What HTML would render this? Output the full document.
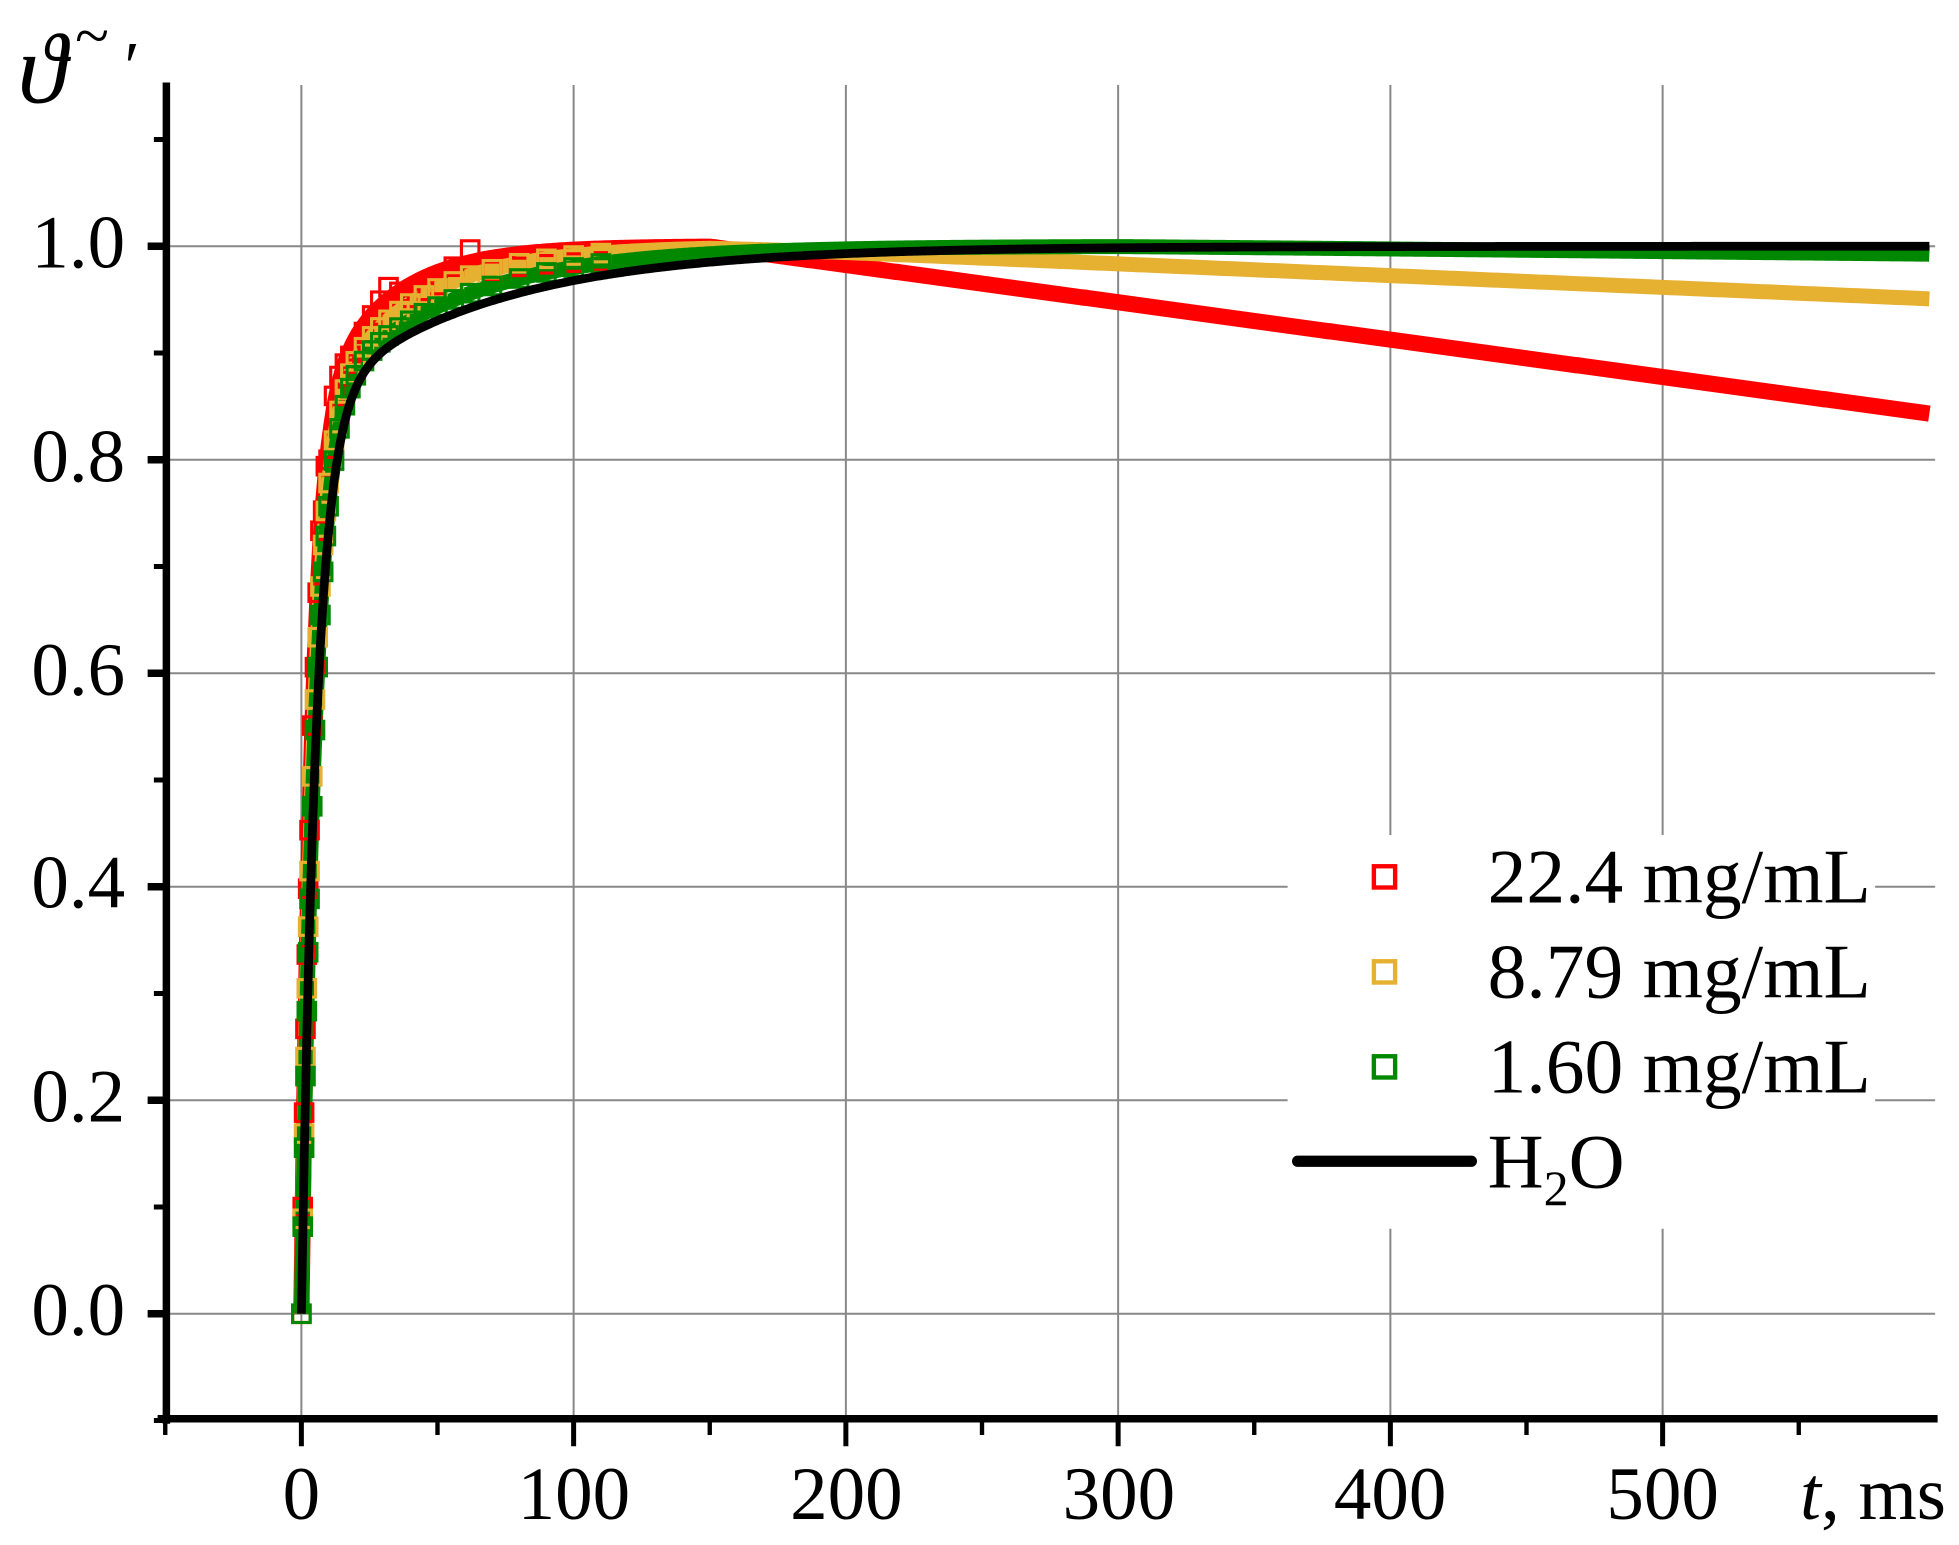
<!DOCTYPE html>
<html><head><meta charset="utf-8"><style>html,body{margin:0;padding:0;background:#fff}svg{display:block}</style></head>
<body>
<svg id="s" xmlns="http://www.w3.org/2000/svg" width="1959" height="1545" viewBox="0 0 1567 1236" font-family="Liberation Serif, serif">
<rect width="1567" height="1236" fill="#fff"/>
<g id="grid" stroke="#888" stroke-width="1.6"></g>
<g id="data"></g>
<rect x="1030" y="668" width="470" height="315" fill="#fff"/>
<g id="axes"></g>
<g font-size="60" fill="#000">
<text x="100" y="1068" text-anchor="end">0.0</text>
<text x="100" y="897" text-anchor="end">0.2</text>
<text x="100" y="726" text-anchor="end">0.4</text>
<text x="100" y="556" text-anchor="end">0.6</text>
<text x="100" y="385" text-anchor="end">0.8</text>
<text x="100" y="214" text-anchor="end">1.0</text>
<text x="241" y="1215" text-anchor="middle">0</text>
<text x="459" y="1215" text-anchor="middle">100</text>
<text x="677" y="1215" text-anchor="middle">200</text>
<text x="895" y="1215" text-anchor="middle">300</text>
<text x="1112" y="1215" text-anchor="middle">400</text>
<text x="1330" y="1215" text-anchor="middle">500</text>
<text x="1440" y="1215"><tspan font-style="italic">t</tspan>, ms</text>
<text x="14" y="82" font-style="italic" font-size="80">ϑ</text>
<text x="60" y="45" font-size="50">~</text>
<text x="96" y="72" font-size="56" font-style="italic">′</text>
</g>
<g font-size="62" fill="#000">
<rect x="1099" y="693" width="17" height="17" fill="none" stroke="#f00" stroke-width="3.5"/>
<rect x="1099" y="769" width="17" height="17" fill="none" stroke="#e6b030" stroke-width="3.5"/>
<rect x="1099" y="845" width="17" height="17" fill="none" stroke="#080" stroke-width="3.5"/>
<line x1="1038" y1="929" x2="1177" y2="929" stroke="#000" stroke-width="9" stroke-linecap="round"/>
<text x="1190" y="722">22.4 mg/mL</text>
<text x="1190" y="798">8.79 mg/mL</text>
<text x="1190" y="874">1.60 mg/mL</text>
<text x="1190" y="950">H<tspan font-size="40" dy="14">2</tspan><tspan dy="-14">O</tspan></text>
</g>
</svg>
<script>
var NS="http://www.w3.org/2000/svg";
function X(t){return 241+t*2.178}
function Y(v){return 1051-v*854}
function el(p,tag,a){var e=document.createElementNS(NS,tag);for(var k in a)e.setAttribute(k,a[k]);document.getElementById(p).appendChild(e);return e}
for(var t=0;t<=500;t+=100)el("grid","line",{x1:X(t),y1:68,x2:X(t),y2:1135});
for(var v=0;v<=1.001;v+=0.2)el("grid","line",{x1:133,y1:Y(v),x2:1548,y2:Y(v)});
function f(t,a,t1,t2,dec,t0){var y=1-a*Math.exp(-t/t1)-(1-a)*Math.exp(-t/t2);if(t>t0)y-=dec*(t-t0);return y}
var S=[
 {c:"#f00",p:[0.82,4,25,0.00035,150],w:13},
 {c:"#e6b030",p:[0.82,4.5,33,0.00011,150],w:12},
 {c:"#080",p:[0.84,5,48,0.000025,300],w:12}
];
S.forEach(function(s){
 var d="";for(var t=0;t<=598;t+=1){d+=(t?"L":"M")+X(t).toFixed(1)+","+Y(f(t,...s.p)).toFixed(1)}
 el("data","path",{d:d,fill:"none",stroke:s.c,"stroke-width":s.w});
});
S.forEach(function(s,i){
 var ts=[0,0.5,1,1.5,2,2.5,3,4,5,6,7,8,9,10,12,14,16,18,20,23,26,29,32,36,40,45,50,56,62,70,80,90,100,110];
 ts.forEach(function(t){var j=(i==0&&t>3)?((t*7)%5-2)*0.006:0;var y=Y(f(t,...s.p)+j);el("data","rect",{x:X(t)-7,y:y-7,width:14,height:14,fill:"none",stroke:s.c,"stroke-width":2.5})});
});
var d="";for(var t=0;t<=598;t+=1){var y=1-0.85*Math.exp(-t/5.5)-0.15*Math.exp(-t/65);d+=(t?"L":"M")+X(t).toFixed(1)+","+Y(y).toFixed(1)}
el("data","path",{d:d,fill:"none",stroke:"#000","stroke-width":7});
el("axes","line",{x1:133,y1:66,x2:133,y2:1139,stroke:"#000","stroke-width":6});
el("axes","line",{x1:126,y1:1135,x2:1550,y2:1135,stroke:"#000","stroke-width":6});
for(var k=-1;k<=11;k++){var v=k*0.1;var maj=(k%2==0);el("axes","line",{x1:maj?118:123,y1:Y(v),x2:133,y2:Y(v),stroke:"#000","stroke-width":maj?6:4})}
for(var t=-50;t<=550;t+=50){var maj=(t%100==0);el("axes","line",{x1:X(t),y1:1135,x2:X(t),y2:maj?1157:1148,stroke:"#000","stroke-width":maj?4:3.5})}
</script>
</body></html>
